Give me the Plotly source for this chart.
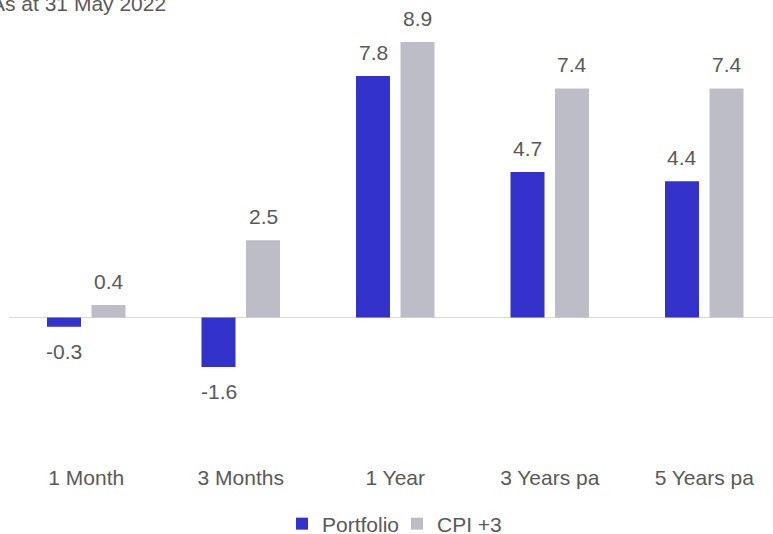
import plotly.graph_objects as go

categories = ["1 Month", "3 Months", "1 Year", "3 Years pa", "5 Years pa"]
portfolio = [-0.3, -1.6, 7.8, 4.7, 4.4]
cpi_plus3 = [0.4, 2.5, 8.9, 7.4, 7.4]
series_names = ["Portfolio", "CPI +3"]
series_colors = ["#3333CC", "#BDBDC7"]
title_text = "As at 31 May 2022"

FONT = "Liberation Sans, Arial, sans-serif"
TXT = "#595959"

L, R, T, B = 9, 0, 35, 71
W, H = 773, 534
PW, PH = W - L - R, H - T - B
CAT_PX = 154.5
SLOT_PX = 44.5

fig = go.Figure()
for name, vals, col in zip(series_names, [portfolio, cpi_plus3], series_colors):
    fig.add_trace(go.Bar(
        x=categories, y=vals, name=name,
        marker=dict(color=col, line=dict(width=0)),
        textposition="none", cliponaxis=False,
    ))

annotations = []
for k, vals in enumerate([portfolio, cpi_plus3]):
    xs = -SLOT_PX / 2 if k == 0 else SLOT_PX / 2
    for c, v in zip(categories, vals):
        annotations.append(dict(
            x=c, y=v, xref="x", yref="y", text=f"{v:.1f}", showarrow=False,
            xshift=xs, yanchor="bottom" if v >= 0 else "top",
            yshift=10 if v >= 0 else -11,
            font=dict(size=21, color=TXT, family=FONT),
        ))

annotations.append(dict(
    text=title_text, xref="paper", yref="paper",
    x=(-11 - L) / PW, y=1 + (T - 17) / PH, xanchor="left", yanchor="bottom",
    showarrow=False, font=dict(size=21, color=TXT, family=FONT),
))

scale = 30.95
zero_px = 317.5
ymax = (zero_px - T) / scale
ymin = -((H - B) - zero_px) / scale

fig.update_layout(
    width=W, height=H,
    margin=dict(l=L, r=R, t=T, b=B, autoexpand=False),
    paper_bgcolor="white", plot_bgcolor="white",
    barmode="group", bargap=1 - 2 * SLOT_PX / CAT_PX, bargroupgap=1 - 34 / SLOT_PX,
    font=dict(family=FONT, color=TXT, size=21),
    showlegend=True,
    legend=dict(orientation="h", x=(397 - L) / PW, xanchor="center", y=-(524 - (H - B)) / PH,
                yanchor="middle", font=dict(size=21, color=TXT, family=FONT),
                traceorder="normal", entrywidth=70, entrywidthmode="pixels"),
    xaxis=dict(showline=False, showgrid=False, ticks="", tickfont=dict(size=21, color=TXT),
               range=[-0.5, -0.5 + PW / CAT_PX]),
    yaxis=dict(range=[ymin, ymax], showgrid=False, showticklabels=False, zeroline=True,
               zerolinecolor="#D9D9D9", zerolinewidth=1, showline=False),
    annotations=annotations,
)

fig.write_html("out.html", config={"displayModeBar": False},
               post_script="document.body.style.margin='0px';document.body.style.overflow='hidden';")
